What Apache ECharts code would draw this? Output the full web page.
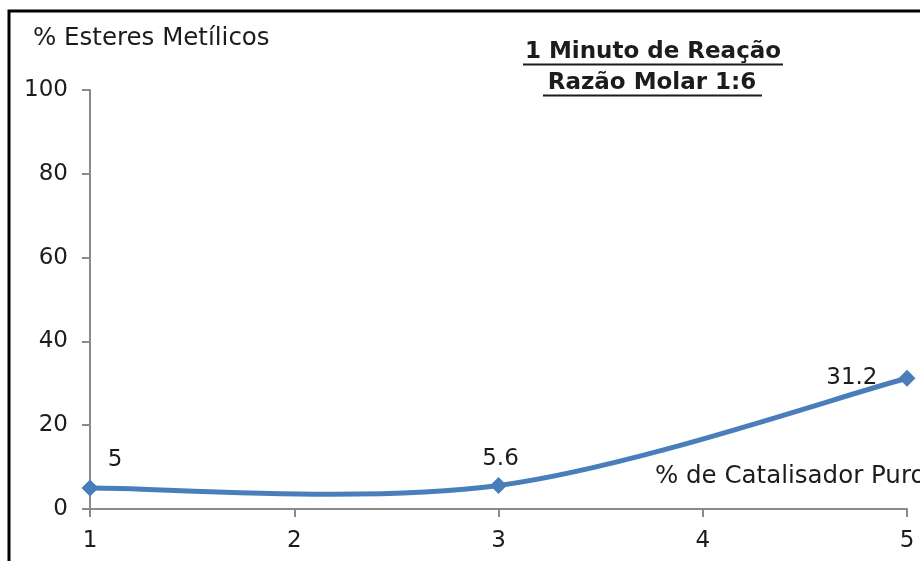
<!DOCTYPE html>
<html>
<head>
<meta charset="utf-8">
<script src="https://cdn.jsdelivr.net/npm/echarts@6/dist/echarts.min.js"></script>
<style>
html,body{margin:0;padding:0;background:#fff;}
#chart{width:920px;height:561px;}
</style>
</head>
<body>
<div id="chart"></div>
<script>
// Catalyst percentage vs. methyl ester yield
const catalystPct = [1, 3, 5];
const esterYield = [5, 5.6, 31.2];
const xTicks = [1, 2, 3, 4, 5];
const yTicks = [0, 20, 40, 60, 80, 100];

const titleLine1 = '1 Minuto de Reação';
const titleLine2 = 'Razão Molar 1:6';
const yTitle = '% Esteres Metílicos';
const xTitle = '% de Catalisador Puro';

const FONT = 'DejaVu Sans';
const TEXT = '#1c1c1c';
const AXIS = '#8a8a8a';
const BLUE = '#4a7ebb';
const FS = 23;
const FS_NAME = 24.5;

// per-point label placement
const labelPlacement = [
  { position: 'top', offset: [25, -3] },
  { position: 'top', offset: [2, -2] },
  { position: 'left', offset: [-16, 0] }
];

// Smoothed curve through the points (cardinal spline, tension 1/6),
// built from the axis coordinates of each data point.
function renderCurve(params, api) {
  if (params.dataIndex !== 0) return null;
  const pts = catalystPct.map((x, i) => api.coord([x, esterYield[i]]));
  const n = pts.length;
  const children = [];
  for (let i = 0; i < n - 1; i++) {
    const p0 = pts[Math.max(i - 1, 0)];
    const p1 = pts[i];
    const p2 = pts[i + 1];
    const p3 = pts[Math.min(i + 2, n - 1)];
    children.push({
      type: 'bezierCurve',
      shape: {
        x1: p1[0], y1: p1[1],
        cpx1: p1[0] + (p2[0] - p0[0]) / 6, cpy1: p1[1] + (p2[1] - p0[1]) / 6,
        cpx2: p2[0] - (p3[0] - p1[0]) / 6, cpy2: p2[1] - (p3[1] - p1[1]) / 6,
        x2: p2[0], y2: p2[1]
      },
      style: { stroke: BLUE, lineWidth: 5, fill: 'none', lineCap: 'round' }
    });
  }
  return { type: 'group', children: children };
}

const chart = echarts.init(document.getElementById('chart'));
chart.setOption({
  backgroundColor: '#fff',
  animation: false,
  grid: { left: 90, right: 13, top: 90, bottom: 52 },
  xAxis: {
    type: 'value', min: xTicks[0], max: xTicks[xTicks.length - 1], interval: 1,
    axisLine: { lineStyle: { color: AXIS, width: 2 } },
    axisTick: { length: 8, lineStyle: { color: AXIS, width: 2 } },
    axisLabel: { color: TEXT, fontFamily: FONT, fontSize: FS, margin: 21 },
    splitLine: { show: false }
  },
  yAxis: {
    type: 'value', min: yTicks[0], max: yTicks[yTicks.length - 1], interval: 20,
    axisLine: { show: true, lineStyle: { color: AXIS, width: 2 } },
    axisTick: { show: true, length: 8, lineStyle: { color: AXIS, width: 2 } },
    axisLabel: { color: TEXT, fontFamily: FONT, fontSize: FS, margin: 22 },
    splitLine: { show: false }
  },
  graphic: [
    { type: 'rect', shape: { x: 9, y: 11, width: 1000, height: 700 },
      style: { fill: 'none', stroke: '#000', lineWidth: 3 }, silent: true },
    { type: 'text', left: 33, top: 26,
      style: { text: yTitle, fill: TEXT, font: FS_NAME + 'px "' + FONT + '"' } },
    { type: 'text', left: 655, top: 464,
      style: { text: xTitle, fill: TEXT, font: FS_NAME + 'px "' + FONT + '"' } },
    { type: 'text', x: 653, y: 52,
      style: { text: titleLine1, fill: TEXT, font: 'bold ' + FS + 'px "' + FONT + '"', textAlign: 'center', textVerticalAlign: 'middle' } },
    { type: 'text', x: 652, y: 83,
      style: { text: titleLine2, fill: TEXT, font: 'bold ' + FS + 'px "' + FONT + '"', textAlign: 'center', textVerticalAlign: 'middle' } },
    { type: 'line', shape: { x1: 523, y1: 64.5, x2: 783, y2: 64.5 }, style: { stroke: TEXT, lineWidth: 2 } },
    { type: 'line', shape: { x1: 543, y1: 95.5, x2: 762, y2: 95.5 }, style: { stroke: TEXT, lineWidth: 2 } }
  ],
  series: [
    {
      type: 'custom',
      renderItem: renderCurve,
      data: catalystPct.map((x, i) => [x, esterYield[i]]),
      clip: false,
      z: 2
    },
    {
      type: 'line',
      data: catalystPct.map((x, i) => ({
        value: [x, esterYield[i]],
        label: Object.assign({ show: true }, labelPlacement[i])
      })),
      symbol: 'diamond',
      symbolSize: 17,
      lineStyle: { width: 0, opacity: 0 },
      itemStyle: { color: BLUE },
      label: { color: TEXT, fontFamily: FONT, fontSize: FS, formatter: p => String(p.value[1]) },
      clip: false,
      z: 3
    }
  ]
});
</script>
</body>
</html>
